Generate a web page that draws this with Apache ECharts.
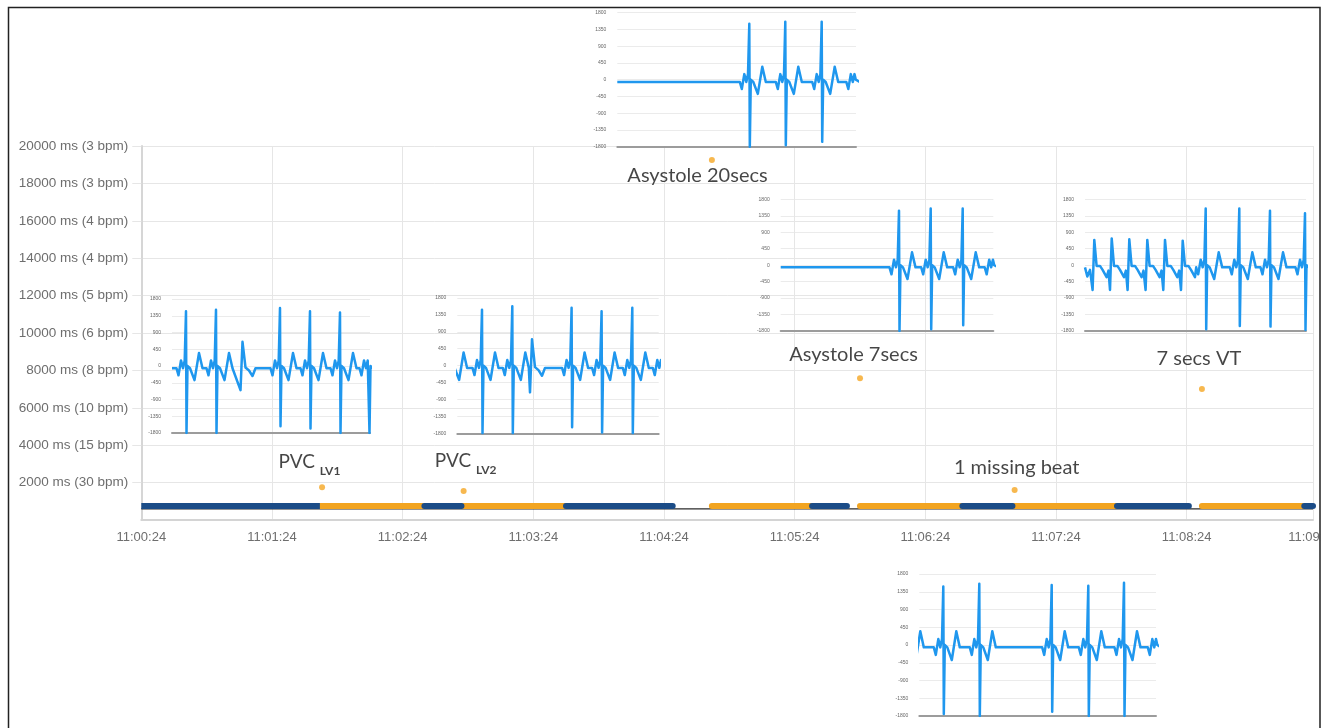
<!DOCTYPE html>
<html>
<head>
<meta charset="utf-8">
<script src="https://cdn.jsdelivr.net/npm/echarts@6/dist/echarts.min.js"></script>
<style>
  html, body { margin: 0; padding: 0; background: #fff; }
  #chart { width: 1321px; height: 728px; }
</style>
</head>
<body>
<div id="chart"></div>
<script>
// ---- main chart data: RR interval (ms) over time ----
const startClock = '11:00:24'
const endClock = '11:09:22'
const yTickValues = [2000, 4000, 6000, 8000, 10000, 12000, 14000, 16000, 18000, 20000]
const yTickLabels = ['2000 ms (30 bpm)', '4000 ms (15 bpm)', '6000 ms (10 bpm)', '8000 ms (8 bpm)', '10000 ms (6 bpm)',
  '12000 ms (5 bpm)', '14000 ms (4 bpm)', '16000 ms (4 bpm)', '18000 ms (3 bpm)', '20000 ms (3 bpm)']

// rhythm band
const bandLevel = 750
const traceLevel = 590
const blueSegments = [['11:00:24', '11:01:46'], ['11:02:34', '11:02:51'], ['11:03:39', '11:04:28'], ['11:05:32', '11:05:48'],
  ['11:06:41', '11:07:04'], ['11:07:52', '11:08:25'], ['11:09:18', '11:09:22']]
const orangeSegments = [['11:01:46', '11:02:34'], ['11:02:51', '11:03:39'], ['11:04:46', '11:05:32'], ['11:05:54', '11:06:41'],
  ['11:07:04', '11:07:52'], ['11:08:31', '11:09:18']]

// events
const eventTimes = ['11:01:47', '11:02:52', '11:04:46', '11:05:54', '11:07:05', '11:08:31']
const eventRR = [1750, 1550, 19250, 7580, 1600, 7000]
const eventNames = ['PVC', 'PVC', 'Asystole 20secs', 'Asystole 7secs', '1 missing beat', '7 secs VT']
const eventSubs = ['LV1', 'LV2', '', '', '', '']

// ---- ECG strips (sample position, beat kind, R value, S value) ----
const shapeNormal = [[-9.5, -60], [-7.5, -250], [-5, 150], [-3, -60], [-1.3, 150], [0, 'R'], [0.5, 'S'], [1.5, 0], [4, -60], [8.5, -380], [13, 350], [16.5, -60]]
const shapePvc = [[-1, 'S'], [1, 'R'], [4, -40], [7.5, -120], [11, -270], [14, -60]]
const shapeVT = [[-1.7, 'S'], [0, 'R'], [2.3, -20], [5.7, -20], [8.3, -130], [12.3, -330], [14.2, -150]]
const shapeVTOnset = [[-9.3, -60], [-7, -310], [-4.3, -130]]

const beatsPvcLv1 = [[14, 'N', 1470, -1800], [44, 'N', 1510, -1800], [69.5, 'P', 650, -650], [108, 'N', 1560, -1620],
  [138, 'N', 1470, -1680], [168, 'N', 1440, -1800], [197, 'N', 160, -1800]]
const beatsPvcLv2 = [[-6.7, 'N', 0, 0], [24.7, 'N', 1490, -1800], [55, 'N', 1580, -1800], [73.7, 'P', 700, -710],
  [114.3, 'N', 1540, -1640], [144.3, 'N', 1450, -1780], [175, 'N', 1540, -1800], [205, 'N', 0, 0]]
const beatsAsystole20 = [[132, 'N', 1500, -1800], [168, 'N', 1560, -1760], [204.4, 'N', 1560, -1670], [238.5, 'N', 0, 0]]
const beatsAsystole7 = [[118.3, 'N', 1490, -1800], [150, 'N', 1550, -1750], [182, 'N', 1550, -1640], [213.5, 'N', 0, 0]]
const beatsVT = [[9.3, 'O', 0, 0], [9.3, 'V', 690, -680], [26.7, 'V', 730, -680], [44.3, 'V', 705, -680], [62.3, 'V', 690, -680],
  [80, 'V', 690, -680], [97.7, 'V', 670, -680], [120.7, 'N', 1550, -1750], [154.3, 'N', 1550, -1660],
  [185, 'N', 1490, -1680], [220, 'N', 1420, -1770]]
const beatsMissing = [[-12, 'N', 0, 0], [24, 'N', 1480, -1750], [60, 'N', 1550, -1800], [132.4, 'N', 1520, -1690],
  [169, 'N', 1500, -1800], [204.7, 'N', 1580, -1800], [238, 'N', 0, 0]]

// ---- layout ----
const insetBoxes = [
  { left: 172, top: 299, width: 198, height: 134, beats: beatsPvcLv1 },
  { left: 457.3, top: 298, width: 201.4, height: 135.3, beats: beatsPvcLv2 },
  { left: 617.3, top: 12.7, width: 238.7, height: 134, beats: beatsAsystole20 },
  { left: 780.7, top: 199.3, width: 212.6, height: 131.7, beats: beatsAsystole7 },
  { left: 1085, top: 199.3, width: 221, height: 131.7, beats: beatsVT },
  { left: 919.3, top: 574, width: 236.7, height: 142, beats: beatsMissing }
]
const labelOffsets = [[-12.6, -25], [2, -30], [-14.4, 16], [-6.5, -24], [2, -22.6], [-3, -30.6]]

const toSec = s => {
  const p = s.split(':').map(Number)
  return p[0] * 3600 + p[1] * 60 + p[2]
}
const t0 = toSec(startClock)
const rel = s => toSec(s) - t0
const pad = n => (n < 10 ? '0' : '') + n
const toClock = v => {
  const t = t0 + v
  return Math.floor(t / 3600) + ':' + pad(Math.floor(t / 60) % 60) + ':' + pad(t % 60)
}

const shapes = { N: shapeNormal, P: shapePvc, V: shapeVT, O: shapeVTOnset }
function buildTrace (beats, span) {
  let pts = []
  beats.forEach(([t, kind, r, s]) => {
    shapes[kind].forEach(([dx, v]) => {
      pts.push([t + dx, v === 'R' ? r : v === 'S' ? s : v])
    })
  })
  pts.sort((a, b) => a[0] - b[0])
  if (pts[0][0] > 0) pts.unshift([0, -60])
  if (pts[pts.length - 1][0] < span) pts.push([span, -60])
  return pts
}

const font = 'Liberation Sans, Arial, sans-serif'
const grids = [{ left: 141.3, top: 146, width: 1171.7, height: 374, outerBoundsMode: 'none' }]
const xAxes = [{
  gridIndex: 0, type: 'value', min: 0, max: rel(endClock), interval: 60,
  axisLine: { lineStyle: { color: '#d4d4d4', width: 2 } },
  axisTick: { show: false },
  axisLabel: { formatter: toClock, color: '#6e6e6e', fontSize: 13, fontFamily: font, margin: 11 },
  splitLine: { show: true, lineStyle: { color: '#e6e6e6', width: 1 } }
}]
const yAxes = [{
  gridIndex: 0, type: 'value', min: 0, max: 20000, interval: 2000,
  axisLine: { show: true, lineStyle: { color: '#d6d6d6', width: 2 } },
  axisTick: { show: true, length: 9, lineStyle: { color: '#e6e6e6' } },
  axisLabel: {
    showMinLabel: false, color: '#6e6e6e', fontSize: 13.5, fontFamily: font, margin: 13,
    formatter: v => yTickLabels[yTickValues.indexOf(v)] || ''
  },
  splitLine: { show: true, lineStyle: { color: '#e6e6e6', width: 1 } }
}]
const series = []

// thin trace under the band
series.push({
  type: 'line', xAxisIndex: 0, yAxisIndex: 0, showSymbol: false, silent: true, z: 2,
  data: [[0, traceLevel], [rel(endClock), traceLevel]],
  lineStyle: { color: '#2b2b2b', width: 1.3 }
})
const addSegments = (segs, color) => segs.forEach(([a, b]) => {
  series.push({
    type: 'line', xAxisIndex: 0, yAxisIndex: 0, showSymbol: false, silent: true, z: 3,
    data: [[rel(a), bandLevel], [rel(b), bandLevel]],
    lineStyle: { color: color, width: 6, cap: rel(a) === 0 ? 'butt' : 'round' }
  })
})
addSegments(orangeSegments, '#f2a420')
addSegments(blueSegments, '#1b4c87')

series.push({
  type: 'scatter', xAxisIndex: 0, yAxisIndex: 0, symbolSize: 6, z: 5,
  itemStyle: { color: '#f5a623' },
  data: eventTimes.map((t, i) => ({
    value: [rel(t), eventRR[i]],
    label: { offset: labelOffsets[i] }
  })),
  label: {
    show: true, position: 'inside', color: '#161616', align: 'center', verticalAlign: 'middle',
    formatter: p => eventSubs[p.dataIndex]
      ? '{a|' + eventNames[p.dataIndex] + ' }{b|' + eventSubs[p.dataIndex] + '}'
      : '{c|' + eventNames[p.dataIndex] + '}',
    rich: {
      a: { fontFamily: 'Lato', fontSize: 19, lineHeight: 30, color: '#161616' },
      b: { fontFamily: 'Lato', fontSize: 12, fontWeight: 'bold', lineHeight: 14, verticalAlign: 'bottom', color: '#161616' },
      c: { fontFamily: 'Lato', fontSize: 20, lineHeight: 24, color: '#161616' }
    }
  }
})

// ECG insets
insetBoxes.forEach((box, i) => {
  const g = i + 1
  grids.push({ left: box.left, top: box.top, width: box.width, height: box.height, outerBoundsMode: 'none' })
  xAxes.push({
    gridIndex: g, type: 'value', min: 0, max: box.width,
    axisLine: { show: true, onZero: false, lineStyle: { color: '#9c9c9c', width: 2 } },
    axisTick: { show: false }, axisLabel: { show: false }, splitLine: { show: false }
  })
  yAxes.push({
    gridIndex: g, type: 'value', min: -1800, max: 1800, interval: 450,
    axisLine: { show: false }, axisTick: { show: false },
    axisLabel: { fontSize: 5, color: '#666', margin: 11, fontFamily: font, formatter: v => String(v) },
    splitLine: { lineStyle: { color: '#ebebeb', width: 1 } }
  })
  series.push({
    type: 'line', xAxisIndex: g, yAxisIndex: g, showSymbol: false, silent: true, z: 4,
    data: buildTrace(box.beats, box.width),
    lineStyle: { color: '#1f97ee', width: 2.5, join: 'round' }
  })
})

let myChart = echarts.init(document.getElementById('chart'))
myChart.setOption({
  animation: false,
  backgroundColor: '#fff',
  grid: grids,
  xAxis: xAxes,
  yAxis: yAxes,
  series: series,
  graphic: [{
    type: 'rect', silent: true, z: 100,
    shape: { x: 8.5, y: 7.5, width: 1311.5, height: 740 },
    style: { fill: 'none', stroke: '#222', lineWidth: 1.5 }
  }]
})
</script>
</body>
</html>
